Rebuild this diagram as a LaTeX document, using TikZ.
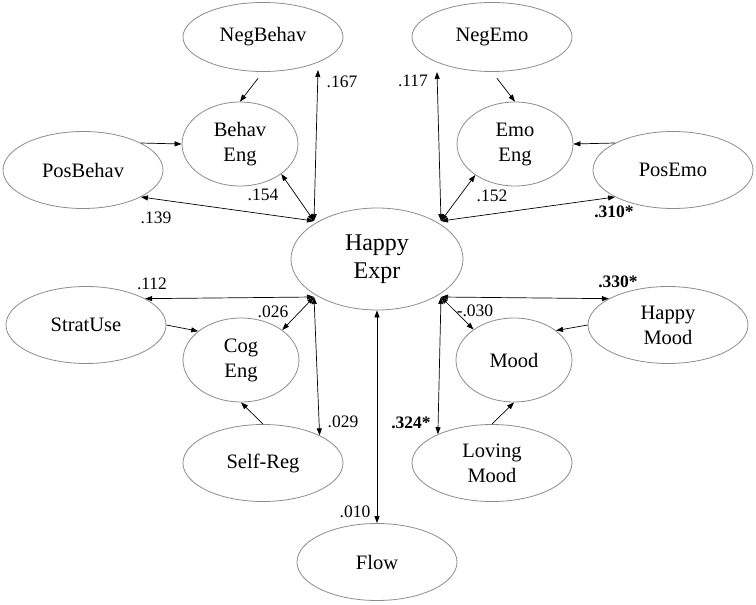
\documentclass[tikz,border=0pt]{standalone}
\usepackage{fontspec}
\setmainfont{Liberation Serif}
\usetikzlibrary{shapes.geometric,arrows.meta}
\definecolor{ellgray}{RGB}{140,140,140}
\begin{document}
\begin{tikzpicture}[x=1pt,y=-1pt,
  lat/.style={ellipse, draw=ellgray, line width=0.8pt, inner sep=0pt, align=center,
    font=\fontsize{20.5}{25}\selectfont},
  wide/.style={lat, minimum width=160pt, minimum height=77pt},
  narrow/.style={lat, minimum width=116pt, minimum height=84pt},
  top/.style={lat, minimum width=160pt, minimum height=69pt},
  conn/.style={line width=0.7pt, -{Triangle[length=7pt,width=5pt]}},
  corr/.style={line width=0.7pt, {Triangle[length=7pt,width=5pt]}-{Triangle[length=7pt,width=5pt]}},
  coef/.style={inner sep=0pt, font=\fontsize{17.5}{20}\selectfont},
  sig/.style={coef, font=\fontsize{17.5}{20}\selectfont\bfseries}]
\useasboundingbox (0,0) rectangle (756,605);

% nodes
\node[top]    (negbehav)  at (263,37)  {NegBehav};
\node[narrow] (behaveng)  at (240,144) {Behav\\Eng};
\node[wide]   (posbehav)  at (83,170)  {PosBehav};
\node[top]    (negemo)    at (492,37)  {NegEmo};
\node[narrow] (emoeng)    at (515,144) {Emo\\Eng};
\node[wide]   (posemo)    at (673,170) {PosEmo};
\node[lat, minimum width=172pt, minimum height=102pt,
      font=\fontsize{24}{28}\selectfont] (happy) at (377,259) {Happy\\Expr};
\node[wide]   (stratuse)  at (86,325)  {StratUse};
\node[narrow] (cogeng)    at (241,360) {Cog\\Eng};
\node[wide]   (selfreg)   at (263,463) {Self-Reg};
\node[wide]   (happymood) at (668,325) {Happy\\Mood};
\node[narrow] (mood)      at (514,360) {Mood};
\node[wide]   (loving)    at (492,463) {Loving\\Mood};
\node[wide]   (flow)      at (377,562) {Flow};

% junction points on Happy Expr
\coordinate (jUL) at (314,221);
\coordinate (jUR) at (441,221);
\coordinate (jLL) at (314,297);
\coordinate (jLR) at (441,297);
\coordinate (nbEnd) at (318,70);
\coordinate (neEnd) at (437,72);

% upper left
\draw[corr] (jUL) -- (nbEnd);
\draw[corr] (jUL) -- (behaveng.-36);
\draw[corr] (jUL) -- (posbehav.-25);
\draw[conn, shorten <=8pt] (negbehav.south) -- (behaveng.north);
\draw[conn] (posbehav.25) -- (behaveng.180);

% upper right
\draw[corr] (jUR) -- (neEnd);
\draw[corr] (jUR) -- (emoeng.-142);
\draw[corr] (jUR) -- (posemo.-155);
\draw[conn, shorten <=8pt] (negemo.south) -- (emoeng.north);
\draw[conn] (posemo.155) -- (emoeng.east);

% lower left
\draw[corr] (jLL) -- (stratuse.24);
\draw[corr] (jLL) -- (cogeng.36);
\draw[corr] (jLL) -- (selfreg.26);
\draw[conn] (stratuse.east) -- (cogeng.146);
\draw[conn] (selfreg.north) -- (cogeng.south);

% lower right
\draw[corr] (jLR) -- (happymood.156);
\draw[corr] (jLR) -- (mood.143);
\draw[corr] (jLR) -- (loving.152);
\draw[conn] (happymood.west) -- (mood.35);
\draw[conn] (loving.north) -- (mood.south);

% flow
\draw[corr] (happy.south) -- (flow.north);

% coefficients
\node[coef] (c167) at (342,82)  {.167};
\node[coef] (c154) at (263,195) {.154};
\node[coef] (c139) at (156,218) {.139};
\node[coef] (c117) at (413,81)  {.117};
\node[coef] (c152) at (492,196) {.152};
\node[sig]  (c310) at (614,212) {.310*};
\node[coef] (c112) at (152,284) {.112};
\node[coef] (c026) at (273,312) {.026};
\node[coef] (c029) at (343,422) {.029};
\node[coef] (c010) at (355,512) {.010};
\node[sig]  (c330) at (618,282) {.330*};
\node[coef] (c030) at (475,311) {-.030};
\node[sig]  (c324) at (411,423) {.324*};
\end{tikzpicture}
\end{document}
